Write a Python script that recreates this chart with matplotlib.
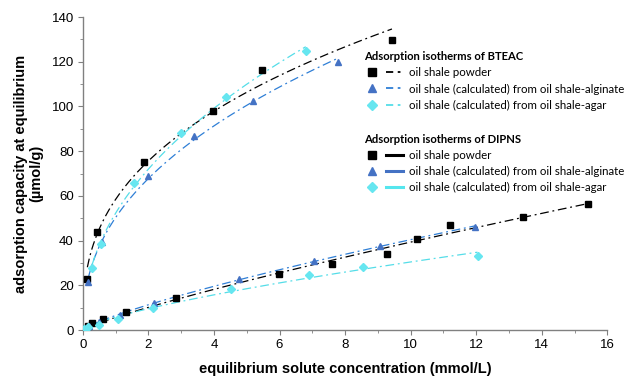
import numpy as np
import matplotlib
matplotlib.use("Agg")
import matplotlib.pyplot as plt
from matplotlib.lines import Line2D
from matplotlib.legend_handler import HandlerTuple
from matplotlib.ticker import MultipleLocator

# BTEAC isotherms
bteac_powder_x = [0.14, 0.43, 1.88, 3.98, 5.48, 9.43]
bteac_powder_y = [22.7, 43.7, 75.0, 97.8, 116.2, 129.8]
bteac_alg_x = [0.17, 0.58, 2.00, 3.40, 5.20, 7.77]
bteac_alg_y = [21.3, 39.4, 69.0, 86.7, 102.6, 120.0]
bteac_agar_x = [0.29, 0.55, 1.56, 2.99, 4.36, 6.80]
bteac_agar_y = [27.6, 38.5, 65.6, 88.3, 104.1, 125.0]

# DIPNS isotherms
dipns_powder_x = [0.03, 0.15, 0.29, 0.63, 1.33, 2.85, 5.99, 7.61, 9.29, 10.2, 11.2, 13.43, 15.41]
dipns_powder_y = [0.6, 2.0, 3.0, 4.9, 8.2, 14.2, 24.9, 29.4, 33.9, 40.6, 47.0, 50.6, 56.2]
dipns_alg_x = [0.05, 0.2, 0.5, 1.14, 2.18, 4.77, 7.06, 9.06, 11.96]
dipns_alg_y = [0.7, 1.8, 3.5, 6.7, 12.2, 22.8, 30.9, 37.7, 46.2]
dipns_agar_x = [0.05, 0.15, 0.5, 1.07, 2.15, 4.51, 6.9, 8.54, 12.04]
dipns_agar_y = [0.5, 1.2, 2.2, 4.9, 9.7, 18.2, 24.6, 28.2, 33.2]

BLACK = "#000000"
ALG_MK = "#4472C4"
ALG_LN = "#2F7FD6"
AGAR_MK = "#66E6F0"
AGAR_LN = "#55DDE8"
DIP_ALG_LN = "#4472C4"
DIP_AGAR_LN = "#55E6EE"

DASH = (0, (7, 3, 1.5, 3))


def freundlich_fit(x, y):
    # least squares fit of q = K * C^n (n found by scanning, K closed form)
    x = np.asarray(x, float)
    y = np.asarray(y, float)
    best = None
    for n in np.linspace(0.1, 1.5, 1401):
        xn = x ** n
        k = (y * xn).sum() / (xn * xn).sum()
        err = ((y - k * xn) ** 2).sum()
        if best is None or err < best[0]:
            best = (err, k, n)
    _, k, n = best
    xs = np.linspace(x.min(), x.max(), 200)
    return xs, k * xs ** n


fig = plt.figure(figsize=(6.32, 3.79), dpi=100)
ax = fig.add_axes([0.131, 0.129, 0.830, 0.826])

series = [
    (bteac_powder_x, bteac_powder_y, "s", BLACK, BLACK),
    (bteac_alg_x, bteac_alg_y, "^", ALG_MK, ALG_LN),
    (bteac_agar_x, bteac_agar_y, "D", AGAR_MK, AGAR_LN),
    (dipns_powder_x, dipns_powder_y, "s", BLACK, BLACK),
    (dipns_alg_x, dipns_alg_y, "^", ALG_MK, ALG_LN),
    (dipns_agar_x, dipns_agar_y, "D", AGAR_MK, AGAR_LN),
]
for x, y, mk, mc, lc in series:
    xs, ys = freundlich_fit(x, y)
    ax.plot(xs, ys, color=lc, lw=0.9, linestyle=DASH, zorder=2)
    ms = 3.6 if mk == "D" else 4.5
    ax.plot(x, y, linestyle="none", marker=mk, ms=ms, color=mc, mec=mc, zorder=3)

ax.set_xlim(0, 16)
ax.set_ylim(0, 140)
ax.xaxis.set_major_locator(MultipleLocator(2))
ax.xaxis.set_minor_locator(MultipleLocator(1))
ax.yaxis.set_major_locator(MultipleLocator(20))
ax.yaxis.set_minor_locator(MultipleLocator(10))
for s in ["top", "right"]:
    ax.spines[s].set_visible(False)
for s in ["left", "bottom"]:
    ax.spines[s].set_color("#808080")
    ax.spines[s].set_linewidth(1.0)
ax.tick_params(which="major", direction="out", length=3.5, color="#808080",
               labelsize=9.5, pad=3)
ax.tick_params(which="minor", direction="out", length=2.5, color="#808080")
for lab in ax.get_xticklabels() + ax.get_yticklabels():
    lab.set_family("Liberation Sans")

ax.set_xlabel("equilibrium solute concentration (mmol/L)", fontsize=10.5,
              fontweight="bold", family="Liberation Sans", labelpad=8)
ax.set_ylabel("adsorption capacity at equilibrium\n(\u00b5mol/g)", fontsize=10.5,
              fontweight="bold", family="Liberation Sans", labelpad=6,
              linespacing=1.1)


def entry(mk, mc, lc, ls, lw):
    ms = 5 if mk == "D" else 5.8
    m = Line2D([], [], linestyle="none", marker=mk, ms=ms, color=mc, mec=mc)
    l = Line2D([], [], color=lc, linestyle=ls, lw=lw)
    return (m, l)


labels = ["oil shale powder",
          "oil shale (calculated) from oil shale-alginate",
          "oil shale (calculated) from oil shale-agar"]
leg_kw = dict(frameon=False, handler_map={tuple: HandlerTuple(ndivide=None, pad=0.4)},
              handlelength=3.4, handletextpad=0.5, labelspacing=0.45,
              prop={"family": "Lato", "size": 8.3},
              title_fontproperties={"family": "Lato", "size": 8.1, "weight": "bold"},
              alignment="left", borderaxespad=0)

h1 = [entry("s", BLACK, BLACK, (0, (4, 2.5, 1.5, 2.5)), 1.3),
      entry("^", ALG_MK, ALG_LN, (0, (4, 2.5, 1.5, 2.5)), 1.3),
      entry("D", AGAR_MK, AGAR_LN, (0, (4, 2.5, 1.5, 2.5)), 1.3)]
leg1 = ax.legend(h1, labels, title="Adsorption isotherms of BTEAC",
                 loc="upper left", bbox_to_anchor=(0.527, 0.906), **leg_kw)
ax.add_artist(leg1)

h2 = [entry("s", BLACK, BLACK, "-", 2.2),
      entry("^", ALG_MK, DIP_ALG_LN, "-", 2.2),
      entry("D", AGAR_MK, DIP_AGAR_LN, "-", 2.2)]
ax.legend(h2, labels, title="Adsorption isotherms of DIPNS",
          loc="upper left", bbox_to_anchor=(0.527, 0.642), **leg_kw)

fig.savefig("out.png", dpi=100)
